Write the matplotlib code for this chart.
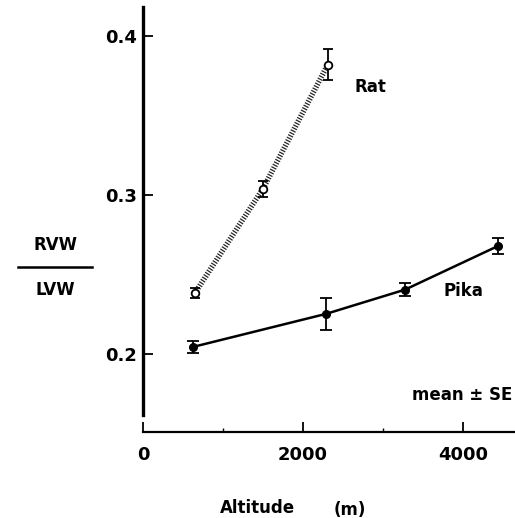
"""
RVW/LVW ratio against altitude for rat and pika (mean +- SE).
"""

import matplotlib

matplotlib.use("Agg")
import matplotlib.pyplot as plt
from matplotlib.ticker import FixedLocator

# data
rat_alt = [650, 1500, 2310]
rat_ratio = [0.2385, 0.304, 0.382]
rat_se = [0.003, 0.005, 0.010]

pika_alt = [625, 2290, 3275, 4440]
pika_ratio = [0.2045, 0.2253, 0.2405, 0.268]
pika_se = [0.004, 0.010, 0.004, 0.005]

yticks = [0.2, 0.3, 0.4]
xticks = [0, 2000, 4000]
xminor = [1000, 3000]

plt.rcParams["font.family"] = ["DejaVu Sans"]
plt.rcParams["font.weight"] = "bold"

fig = plt.figure(figsize=(5.15, 5.18), dpi=100)
ax = fig.add_axes([0.2777, 0.166, 0.7223, 0.834])

# rat: hatched-looking line, open circles
ax.plot(rat_alt, rat_ratio, color="#222222", lw=4.0, linestyle=(0, (0.22, 0.28)),
        solid_capstyle="butt", zorder=2)
ax.errorbar(rat_alt, rat_ratio, yerr=rat_se, fmt="o", ms=5.5, mfc="white",
            mec="black", mew=1.3, ecolor="black", elinewidth=1.3, capsize=3.5,
            capthick=1.3, zorder=3)

# pika: solid line, filled circles
ax.errorbar(pika_alt, pika_ratio, yerr=pika_se, fmt="-o", color="black", ms=5.5,
            lw=1.8, elinewidth=1.3, capsize=4, capthick=1.3, zorder=3)

ax.text(2840, 0.368, "Rat", fontsize=12, fontweight="bold", ha="center", va="center")
ax.text(4000, 0.2395, "Pika", fontsize=12, fontweight="bold", ha="center", va="center")
ax.text(4620, 0.174, "mean ± SE", fontsize=12, fontweight="bold", ha="right", va="center")

ax.set_xlim(0, 4650)
ax.set_ylim(0.151, 0.4226)

ax.spines["top"].set_visible(False)
ax.spines["right"].set_visible(False)
ax.spines["left"].set_linewidth(2.4)
ax.spines["left"].set_bounds(0.162, 0.418)
ax.spines["bottom"].set_linewidth(1.6)

ax.set_yticks(yticks)
ax.set_yticklabels(["0.2", "0.3", "0.4"])
ax.set_xticks(xticks)
ax.set_xticklabels(["0", "2000", "4000"])
ax.xaxis.set_minor_locator(FixedLocator(xminor))

ax.tick_params(axis="y", direction="in", length=7, width=1.3, pad=4, labelsize=13)
ax.tick_params(axis="x", which="major", direction="in", length=7, width=1.3, pad=10,
               labelsize=13)
ax.tick_params(axis="x", which="minor", direction="in", length=3, width=1.0)
for lab in ax.get_xticklabels() + ax.get_yticklabels():
    lab.set_fontweight("bold")

# RVW / LVW fraction label
fig.text(0.107, 1 - 245 / 518, "RVW", fontsize=12, fontweight="bold", ha="center", va="center")
fig.text(0.107, 1 - 290 / 518, "LVW", fontsize=12, fontweight="bold", ha="center", va="center")
fig.add_artist(plt.Line2D([18 / 515, 92 / 515], [1 - 267 / 518, 1 - 267 / 518],
                          color="black", lw=1.8))

fig.text(257 / 515, 1 - 508 / 518, "Altitude", fontsize=12, fontweight="bold",
         ha="center", va="center")
fig.text(350 / 515, 1 - 510 / 518, "(m)", fontsize=12, fontweight="bold",
         ha="center", va="center")

fig.savefig("out.png", dpi=100)
